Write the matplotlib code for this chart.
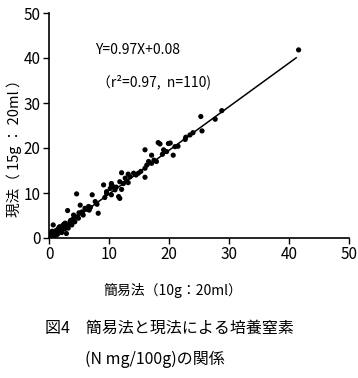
import matplotlib.pyplot as plt
import numpy as np

# 簡易法 (x) vs 現法 (y)
simple = [0.05, 0.2, 0.4, 0.7, 0.7, 1.0, 1.3, 1.6, 1.8, 2.1, 2.2, 2.4, 2.7, 2.9, 3.1, 3.2,
          3.5, 3.8, 4.1, 4.3, 4.6, 4.6, 4.9, 5.2, 5.7, 6.0, 6.6, 6.7, 7.2, 7.7, 8.2,
          9.1, 9.6, 9.6, 10.2, 10.4, 10.4, 10.4, 10.7, 11.0, 11.6, 11.8, 11.8, 12.1,
          12.1, 12.4, 12.7, 13.2, 13.2, 13.5, 14.1, 14.9, 16.0, 16.0, 16.0, 16.3,
          16.6, 17.1, 17.1, 17.9, 18.2, 18.5, 19.1, 19.6, 19.9, 20.2, 20.7, 22.7,
          22.8, 24.0, 25.3, 25.5, 27.7, 28.8, 41.6,
          0.3, 0.5, 0.9, 1.1, 1.5, 1.9, 2.6, 3.0, 3.4, 0.6, 1.2, 2.0, 2.5, 5.5, 6.3,
          0.1, 0.8, 1.4, 1.7, 2.3, 3.6, 4.0, 5.0, 6.9, 8.0, 9.3, 11.2, 12.9, 14.5,
          15.3, 17.5, 18.9, 21.0, 21.5, 23.5]
current = [0.3, 0.7, 1.0, 2.9, 1.0, 0.7, 1.4, 1.8, 2.5, 1.2, 2.2, 2.5, 3.3, 1.0, 6.1, 2.2,
           3.6, 2.9, 5.1, 3.6, 9.8, 4.7, 4.4, 7.3, 5.1, 6.6, 7.0, 6.2, 9.6, 8.1, 5.5,
           11.8, 9.9, 10.3, 11.0, 11.8, 12.1, 9.6, 11.4, 10.7, 9.2, 12.5, 8.8, 14.5,
           10.8, 12.1, 13.3, 14.2, 12.3, 13.6, 14.4, 14.4, 19.6, 15.5, 13.5, 16.2,
           17.0, 18.4, 16.6, 17.0, 21.2, 20.9, 19.6, 19.2, 21.0, 21.1, 18.4, 21.9,
           22.4, 23.4, 27.0, 23.8, 26.4, 28.3, 41.8,
           0.5, 1.5, 0.4, 1.6, 2.0, 1.9, 2.0, 2.7, 3.0, 1.3, 0.9, 1.6, 3.1, 5.8, 6.4,
           0.9, 1.3, 0.8, 2.4, 2.8, 3.9, 4.2, 5.6, 6.8, 7.5, 9.0, 11.3, 12.6, 14.0,
           14.8, 17.3, 18.6, 20.3, 20.4, 22.9]

slope, intercept = 0.97, 0.08
fit_x = np.array([0, 41.2])

plt.rcParams['font.family'] = ['Noto Sans CJK JP', 'DejaVu Sans']

fig = plt.figure(figsize=(3.58, 3.78), dpi=100)
ax = fig.add_axes([49 / 358, 140 / 378, 300 / 358, 225 / 378])

ax.scatter(simple, current, s=14, c='black', edgecolors='none', zorder=3)
ax.plot(fit_x, slope * fit_x + intercept, color='black', lw=1.1)

ax.set_xlim(0, 50)
ax.set_ylim(0, 50)
ax.set_xticks([0, 10, 20, 30, 40, 50])
ax.set_yticks([0, 10, 20, 30, 40, 50])
ax.spines['top'].set_visible(False)
ax.spines['right'].set_visible(False)
ax.spines['left'].set_linewidth(1.2)
ax.spines['bottom'].set_linewidth(1.2)
ax.tick_params(direction='out', length=4, width=1, labelsize=11, pad=2)

ax.text(7.7, 41.8, 'Y=0.97X+0.08', fontsize=10, va='center')
ax.text(8.0, 34.7, '（r²=0.97,  n=110)', fontsize=10, va='center')

fig.text(14 / 358, 1 - 145 / 378, '現法（ 15g ： 20ml ）', rotation=90,
         ha='center', va='center', fontsize=10.5)
fig.text(173 / 358, 1 - 290 / 378, '簡易法（10g：20ml）', ha='center',
         va='center', fontsize=10)
fig.text(45 / 358, 1 - 328 / 378, '図4　簡易法と現法による培養窒素', ha='left',
         va='center', fontsize=11.5)
fig.text(85 / 358, 1 - 359 / 378, '(N mg/100g)の関係', ha='left',
         va='center', fontsize=11.5)

fig.savefig('out.png', dpi=100)
plt.close()
